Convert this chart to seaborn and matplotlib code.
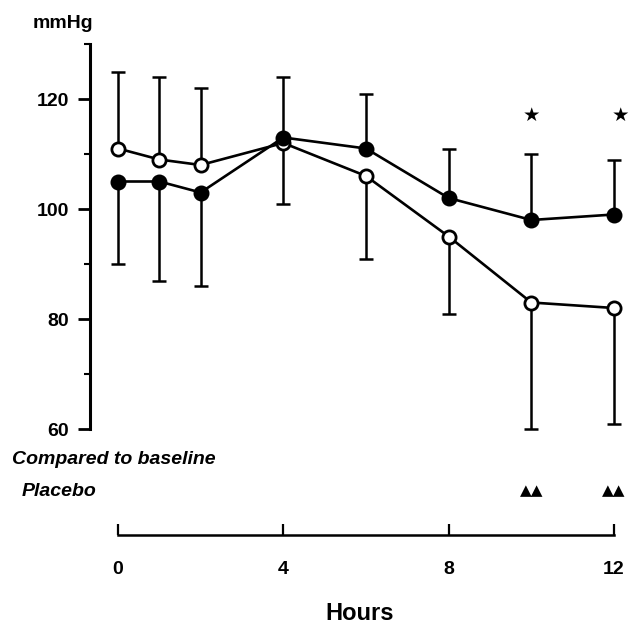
import numpy as np
import pandas as pd
import matplotlib
matplotlib.use("Agg")
import matplotlib.pyplot as plt
from matplotlib import font_manager
import seaborn as sns

# ---- data ----
hours = [0, 1, 2, 4, 6, 8, 10, 12]
active = [105, 105, 103, 113, 111, 102, 98, 99]            # filled circles
active_bar_end = [90, 87, 86, 124, 121, 111, 110, 109]     # one-sided error bar ends
placebo = [111, 109, 108, 112, 106, 95, 83, 82]            # open circles
placebo_bar_end = [125, 124, 122, 101, 91, 81, 60, 61]
y_major = [60, 80, 100, 120]
y_minor = [70, 90, 110, 130]
x_ticks = [0, 4, 8, 12]
star_hours = [10, 12.15]
star_level = 117
triangle_hours = [10, 12]

sns.set_theme(style="white")
plt.rcParams["font.family"] = ["Liberation Sans", "DejaVu Sans"]
plt.rcParams["font.weight"] = "bold"
for k in ["text.color", "axes.labelcolor", "xtick.color", "ytick.color"]:
    plt.rcParams[k] = "black"

names = {f.name for f in font_manager.fontManager.ttflist}
hours_family = "Liberation Sans Narrow" if "Liberation Sans Narrow" in names else "Liberation Sans"

fig = plt.figure(figsize=(6.3, 6.25), dpi=100)
ax = fig.add_axes([90 / 630, (625 - 535) / 625, 1 - 90 / 630, (535 - 44) / 625])

df = pd.DataFrame({
    "hours": hours * 2,
    "value": placebo + active,
    "group": ["Placebo"] * len(hours) + ["Active"] * len(hours),
})


def one_sided(values, ends):
    v = np.asarray(values, float)
    e = np.asarray(ends, float)
    lower = np.where(e < v, v - e, 0.0)
    upper = np.where(e > v, e - v, 0.0)
    return [lower, upper]


for vals, ends in [(placebo, placebo_bar_end), (active, active_bar_end)]:
    ax.errorbar(hours, vals, yerr=one_sided(vals, ends), fmt="none",
                ecolor="black", elinewidth=1.8, capsize=5, capthick=1.8, zorder=1)

sns.lineplot(data=df[df.group == "Placebo"], x="hours", y="value", ax=ax,
             color="black", lw=1.9, marker="o", ms=9.5, mfc="white", mec="black",
             mew=2, zorder=3, legend=False)
sns.lineplot(data=df[df.group == "Active"], x="hours", y="value", ax=ax,
             color="black", lw=1.9, marker="o", ms=9.5, mfc="black", mec="black",
             mew=2, zorder=4, legend=False)

ax.set_xlim(-28 / 41.33, (630 - 118) / 41.33)
ax.set_ylim(60 - (535 - 429) / 5.5, 130)

for s in ["top", "right"]:
    ax.spines[s].set_visible(False)
ax.spines["left"].set_bounds(60, 130)
ax.spines["bottom"].set_bounds(0, 12)
ax.spines["left"].set_linewidth(2.2)
ax.spines["bottom"].set_linewidth(1.8)
for s in ["left", "bottom"]:
    ax.spines[s].set_color("black")

ax.set_yticks(y_major)
ax.set_yticks(y_minor, minor=True)
ax.set_yticklabels([str(v) for v in y_major], fontsize=14, fontweight="bold")
ax.tick_params(axis="y", which="major", direction="out", length=9, width=2,
               color="black", pad=6, left=True)
ax.tick_params(axis="y", which="minor", direction="out", length=4, width=1.5,
               color="black", left=True)

ax.set_xticks(x_ticks)
ax.set_xticklabels([str(v) for v in x_ticks], fontsize=14, fontweight="bold")
ax.tick_params(axis="x", which="major", direction="in", length=8, width=1.6,
               color="black", pad=19, bottom=True)

ax.set_xlabel("Hours", fontsize=20 if hours_family.endswith("Narrow") else 17,
              fontweight="bold", labelpad=17, family=[hours_family, "DejaVu Sans"])
ax.set_ylabel("")

fig.text(63 / 630, 1 - 24 / 625, "mmHg", ha="center", va="center",
         fontsize=14, fontweight="bold")

for h in star_hours:
    ax.text(h, star_level, "★", ha="center", va="center", fontsize=14,
            family=["DejaVu Sans"], color="black")

fig.text(12 / 630, 1 - 460 / 625, "Compared to baseline", ha="left", va="center",
         fontsize=14, fontweight="bold", style="italic")
fig.text(22 / 630, 1 - 491 / 625, "Placebo", ha="left", va="center",
         fontsize=14, fontweight="bold", style="italic")
tri_y = 60 - (491 - 429) / 5.5
for h in triangle_hours:
    ax.text(h, tri_y, "▲▲", ha="center", va="center", fontsize=11,
            family=["DejaVu Sans"], color="black", clip_on=False)

fig.savefig("out.png", dpi=100, facecolor="white")
